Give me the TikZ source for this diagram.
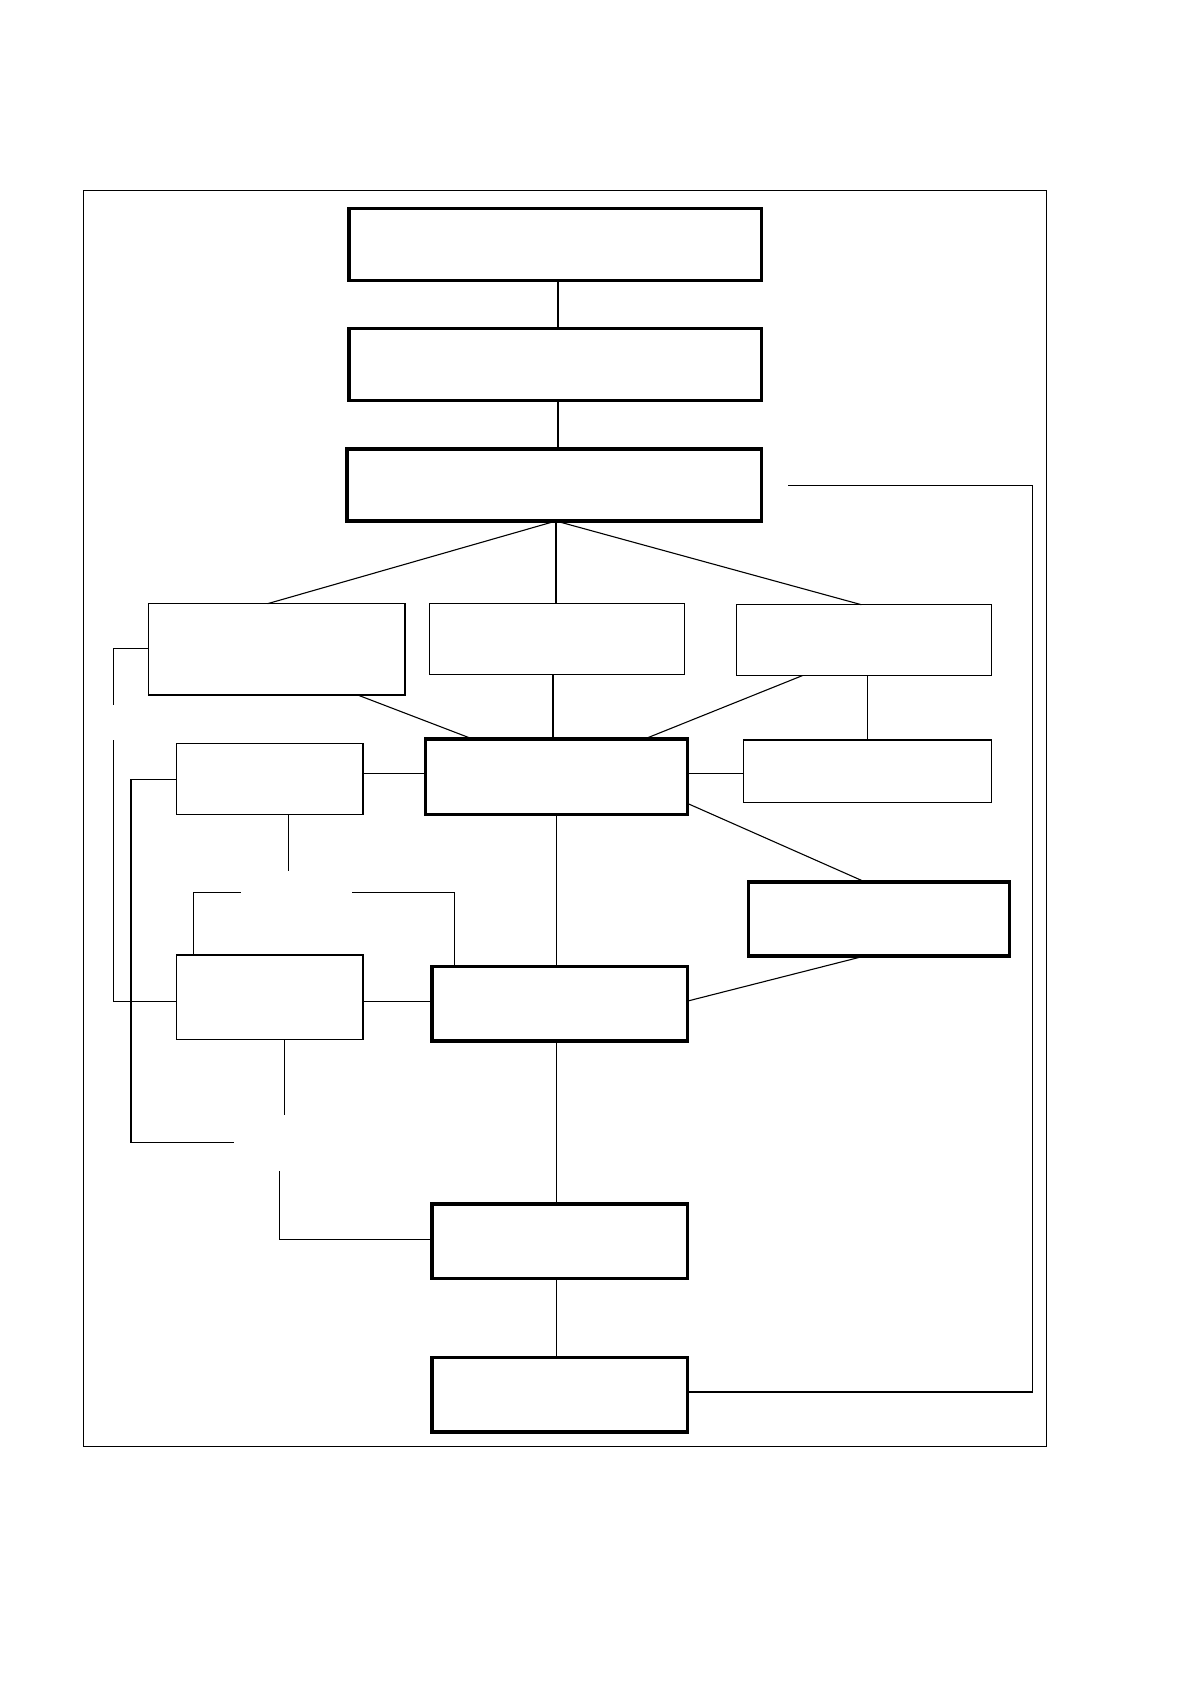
\documentclass[tikz,border=0pt]{standalone}
\usetikzlibrary{calc}
\newcommand{\mybox}[6]{%
  \node[#6, minimum width={(#4-#2)*1pt}, minimum height={(#5-#3)*1pt}]
    (#1) at ({(#2+#4)/2},{(#3+#5)/2}) {};}
\tikzset{
  thinbox/.style={draw, line width=1.1pt, inner sep=0pt, outer sep=0pt},
  thickbox/.style={draw, line width=3.4pt, inner sep=0pt, outer sep=0pt},
  conn/.style={draw, line width=1.1pt},
}
\begin{document}
\begin{tikzpicture}[x=1pt,y=-1pt]
\useasboundingbox (0,0) rectangle (1188,1684);
\fill[white] (0,0) rectangle (1188,1684);
\draw[line width=1pt] (83.8,190.1) rectangle (1046.2,1446.8);
% boxes
\mybox{B1}{349}{208.4}{761.6}{280.3}{thickbox}
\mybox{B2}{349}{328.7}{761.6}{400.6}{thickbox}
\mybox{B3}{347}{449}{761.6}{521}{thickbox}
\mybox{L1}{148.2}{603.7}{405}{695}{thinbox}
\mybox{M1}{429.6}{603.7}{684.2}{674.5}{thinbox}
\mybox{R1}{736.8}{604.7}{991.4}{675.6}{thinbox}
\mybox{C}{425.3}{739}{687.4}{814.2}{thickbox}
\mybox{R2}{743.3}{740}{991.4}{802.4}{thinbox}
\mybox{R3}{748.6}{881.8}{1009.7}{956}{thickbox}
\mybox{E}{176.2}{743.3}{363}{814.2}{thinbox}
\mybox{D}{431.8}{966.7}{687.4}{1040.8}{thickbox}
\mybox{F}{176.2}{955}{363}{1039.7}{thinbox}
\mybox{G}{431.8}{1204}{687.4}{1278.2}{thickbox}
\mybox{H}{431.8}{1357.6}{687.4}{1431.8}{thickbox}
% free ends
\coordinate (fb) at (788.4,485.5);
\coordinate (e1) at (288.9,871.1);
\coordinate (t1) at (240.6,892.6);
\coordinate (t2) at (352.3,892.6);
\coordinate (f1) at (284.6,1115);
\coordinate (l1) at (113.9,704.6);
\coordinate (l2) at (113.9,740);
\coordinate (k1) at (234.2,1142.8);
\coordinate (g1) at (279.3,1170.8);
% connectors
\draw[conn] (558,0 |- B1.south) -- (558,0 |- B2.north);
\draw[conn] (558,0 |- B2.south) -- (558,0 |- B3.north);
\draw[conn] (556,0 |- B3.south) -- (267.5,0 |- L1.north);
\draw[conn] (556,0 |- B3.south) -- (556,0 |- M1.north);
\draw[conn] (556,0 |- B3.south) -- (861.4,0 |- R1.north);
\draw[conn] (357.7,0 |- L1.south) -- (472.6,0 |- C.north);
\draw[conn] (553,0 |- M1.south) -- (553,0 |- C.north);
\draw[conn] (802.4,0 |- R1.south) -- (644.5,0 |- C.north);
\draw[conn] (867.9,0 |- R1.south) -- (867.9,0 |- R2.north);
\draw[conn] (C.east |- 0,773.4) -- (R2.west |- 0,773.4);
\draw[conn] (C.east |- 0,803.4) -- (864.7,0 |- R3.north);
\draw[conn] (864.7,0 |- R3.south) -- (D.east |- 0,1001.1);
\draw[conn] (556.4,0 |- C.south) -- (556.4,0 |- D.north);
\draw[conn] (E.east |- 0,773.4) -- (C.west |- 0,773.4);
\draw[conn] (288.9,0 |- E.south) -- (e1);
\draw[conn] (t1) -| (193.3,0 |- F.north);
\draw[conn] (t2) -| (454.3,0 |- D.north);
\draw[conn] (F.east |- 0,1001.1) -- (D.west |- 0,1001.1);
\draw[conn] (284.6,0 |- F.south) -- (f1);
\draw[conn] (L1.west |- 0,648.8) -| (l1);
\draw[conn] (l2) |- (F.west |- 0,1001.1);
\draw[conn] (E.west |- 0,779.8) -| (131,1142.8) -- (k1);
\draw[conn] (g1) |- (G.west |- 0,1239.5);
\draw[conn] (556.4,0 |- D.south) -- (556.4,0 |- G.north);
\draw[conn] (556.4,0 |- G.south) -- (556.4,0 |- H.north);
\draw[conn] (fb) -- (1032.2,485.5) -- (1032.2,1392) -- (H.east |- 0,1392);
\end{tikzpicture}
\end{document}
